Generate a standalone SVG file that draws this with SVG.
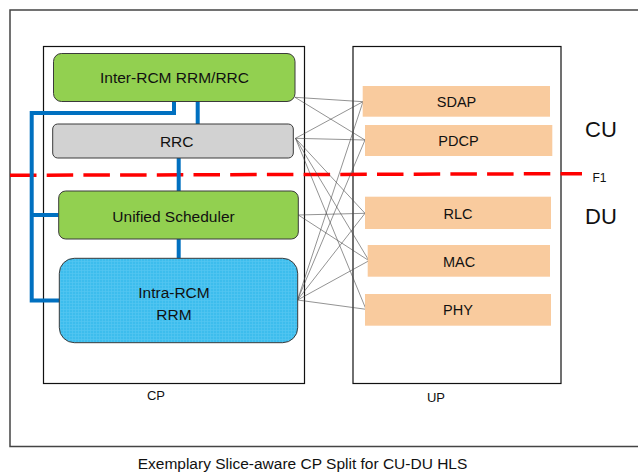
<svg xmlns="http://www.w3.org/2000/svg" width="638" height="472" viewBox="0 0 638 472">
  <style>
    .t { font-family: "Liberation Sans", Arial, sans-serif; fill: #111; }
    .node { stroke: #3a3a3a; stroke-width: 1; }
    .green { fill: #92D050; }
    .grey { fill: #D2D2D2; }
    .up { fill: #F9CB9E; stroke: none; }
    .frame { fill: none; stroke: #111; stroke-width: 1.2; }
    .bus { fill: none; stroke: #0070C0; stroke-width: 4; }
    .link { stroke: #4a4a4a; stroke-width: 0.6; fill: none; }
  </style>
  <defs>
    <pattern id="hatch" width="3" height="3" patternUnits="userSpaceOnUse">
      <rect width="3" height="3" fill="#3DBDED"/>
      <path d="M0 0.5H3M0.5 0V3" stroke="#55C6F1" stroke-width="0.7"/>
    </pattern>
  </defs>

  <rect width="638" height="472" fill="#fff"/>

  <!-- outer frame -->
  <path d="M640 10H10V446.5H640" fill="none" stroke="#444" stroke-width="1.5"/>

  <!-- CP / UP containers -->
  <g id="cp">
    <rect class="frame" x="43.5" y="46.5" width="261" height="337"/>
    <text class="t" x="156" y="400" font-size="13" text-anchor="middle">CP</text>
  </g>
  <g id="up">
    <rect class="frame" x="353" y="46.5" width="208" height="337"/>
    <text class="t" x="436" y="401.5" font-size="13" text-anchor="middle">UP</text>
  </g>

  <!-- F1 split line -->
  <g id="f1">
    <line x1="10" y1="175.3" x2="582" y2="173.7" stroke="#FF0000" stroke-width="3.5" stroke-dasharray="26.5 10.2"/>
    <text class="t" x="592.5" y="181.7" font-size="12">F1</text>
  </g>
  <g id="cu"><text class="t" x="601" y="136.7" font-size="22" text-anchor="middle">CU</text></g>
  <g id="du"><text class="t" x="601" y="224" font-size="22" text-anchor="middle">DU</text></g>

  <!-- connectors -->
  <g id="connectors">
    <!-- control-plane bus -->
    <path class="bus" d="M174 102V113H31.7V300.5H59.5"/>
    <path class="bus" d="M31.7 215H58.7"/>
    <path class="bus" d="M197.7 102V124"/>
    <path class="bus" d="M178.7 158V191"/>
    <path class="bus" d="M178.7 239V258.5"/>
    <!-- CP to UP links -->
    <path class="link" d="M295 97.3L363 101.7M295 97.3L365 140"/>
    <path class="link" d="M295.5 138.3L363 101.7M295.5 138.3L365 140M295.5 138.3L365 213.3M295.5 138.3L369 260.7M295.5 138.3L366 309.3"/>
    <path class="link" d="M298.3 215L365 213.3M298.3 215L369 260.7"/>
    <path class="link" d="M297.5 300L363 101.7M297.5 300L365 140M297.5 300L365 213.3M297.5 300L369 260.7M297.5 300L366 309.3"/>
  </g>

  <!-- control-plane nodes -->
  <g id="inter-rcm">
    <rect class="node green" x="53.5" y="53.5" width="241.5" height="48" rx="8"/>
    <text class="t" x="174.5" y="83" font-size="15.5" text-anchor="middle">Inter-RCM RRM/RRC</text>
  </g>
  <g id="rrc">
    <rect class="node grey" x="52.7" y="124" width="240.6" height="34" rx="5"/>
    <text class="t" x="176.7" y="146.5" font-size="15.5" text-anchor="middle">RRC</text>
  </g>
  <g id="unified-scheduler">
    <rect class="node green" x="58.7" y="191" width="239.6" height="48" rx="7"/>
    <text class="t" x="173.5" y="221.5" font-size="15.5" text-anchor="middle">Unified Scheduler</text>
  </g>
  <g id="intra-rcm">
    <rect class="node" fill="url(#hatch)" x="59.3" y="258.3" width="238.4" height="84.4" rx="15"/>
    <text class="t" x="174" y="298.3" font-size="15.5" text-anchor="middle">Intra-RCM</text>
    <text class="t" x="174" y="320" font-size="15.5" text-anchor="middle">RRM</text>
  </g>

  <!-- user-plane layers -->
  <g id="sdap">
    <rect class="up" x="362.7" y="86" width="187.3" height="30.7"/>
    <text class="t" x="456.5" y="106.7" font-size="14.5" text-anchor="middle">SDAP</text>
  </g>
  <g id="pdcp">
    <rect class="up" x="365" y="125" width="187.3" height="31"/>
    <text class="t" x="458.5" y="146" font-size="14.5" text-anchor="middle">PDCP</text>
  </g>
  <g id="rlc">
    <rect class="up" x="365" y="196.7" width="186" height="32.3"/>
    <text class="t" x="458" y="219.3" font-size="14.5" text-anchor="middle">RLC</text>
  </g>
  <g id="mac">
    <rect class="up" x="367.7" y="245" width="182.3" height="31.7"/>
    <text class="t" x="459" y="266.7" font-size="14.5" text-anchor="middle">MAC</text>
  </g>
  <g id="phy">
    <rect class="up" x="365" y="294" width="186" height="31.7"/>
    <text class="t" x="458" y="315" font-size="14.5" text-anchor="middle">PHY</text>
  </g>

  <!-- caption -->
  <text class="t" x="302.5" y="468.5" font-size="15.5" text-anchor="middle">Exemplary Slice-aware CP Split for CU-DU HLS</text>
</svg>
